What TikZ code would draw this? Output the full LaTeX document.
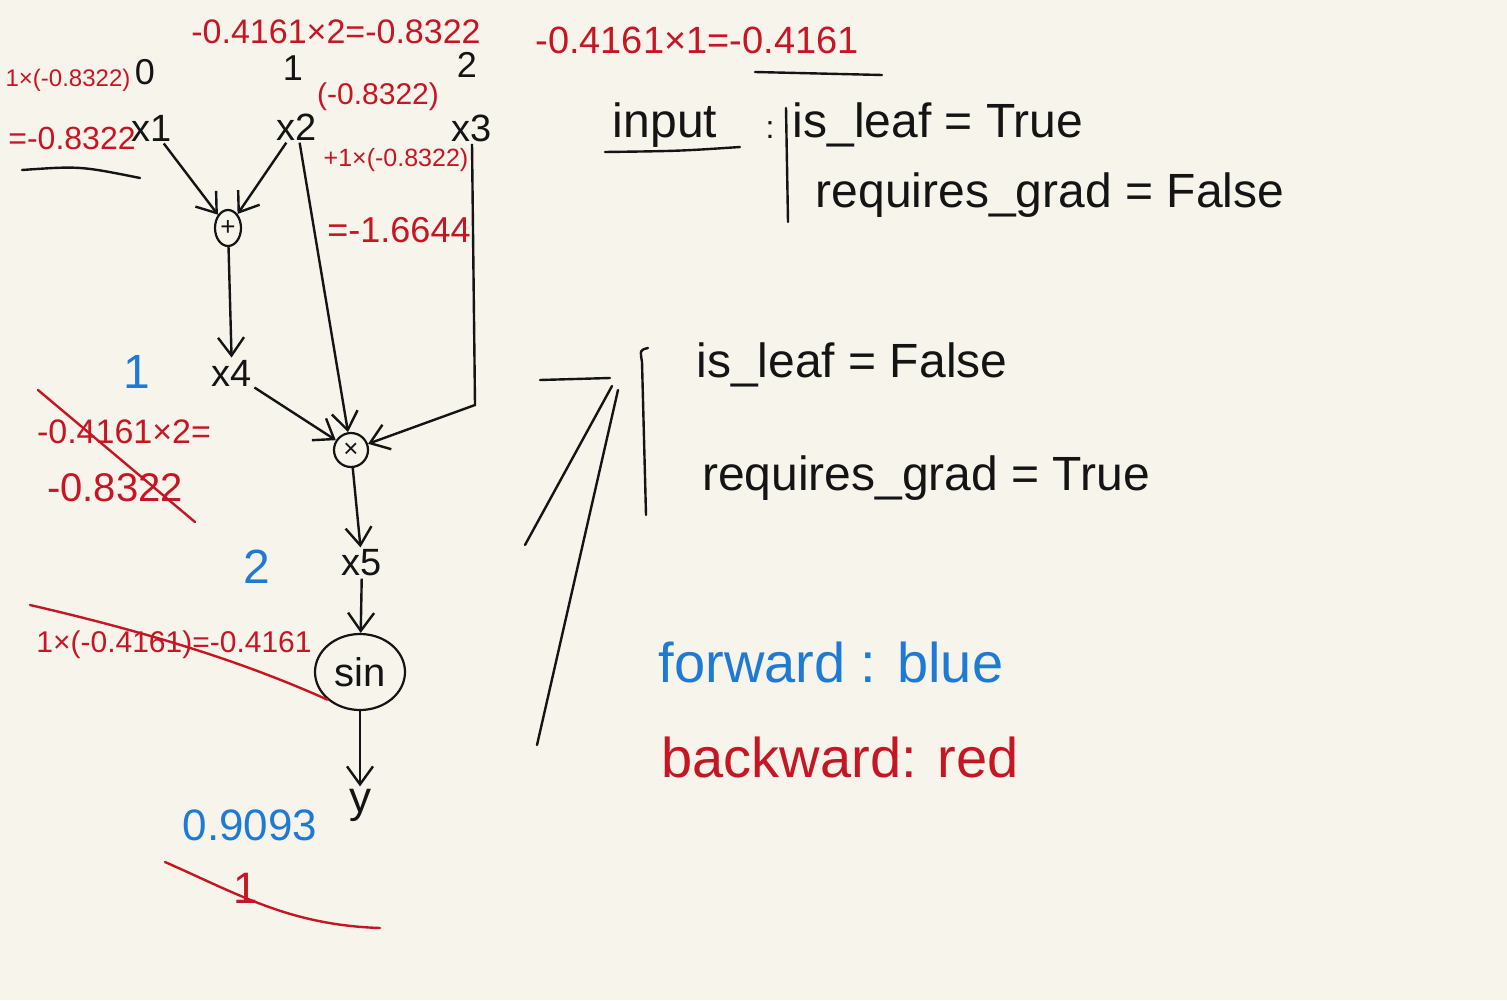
\documentclass[tikz,border=0pt]{standalone}
\usepackage{fontspec}
\setmainfont{Liberation Sans}
\usetikzlibrary{arrows.meta,shapes.geometric}
\definecolor{paper}{RGB}{247,244,235}
\definecolor{ink}{RGB}{20,20,20}
\definecolor{redink}{RGB}{198,22,36}
\definecolor{blueink}{RGB}{30,122,212}
\tikzset{
  fs/.style={font=\fontsize{#1pt}{#1pt}\selectfont},
  lbl/.style={inner sep=1pt, text=ink},
  bwd/.style={inner sep=1pt, text=redink},
  fwd/.style={inner sep=1pt, text=blueink},
  opnode/.style={draw=ink, line width=1.1pt, inner sep=0pt, text=ink},
  flow/.style={draw=ink, line width=1.2pt, -{Straight Barb[length=9pt,width=13pt]}},
  pen/.style={draw=ink, line width=1.2pt, line cap=round},
  redpen/.style={draw=redink, line width=1.2pt, line cap=round},
}
\begin{document}
\begin{tikzpicture}[x=0.5pt,y=-0.5pt]
\fill[paper] (0,0) rectangle (1507,1000);
\useasboundingbox (0,0) rectangle (1507,1000);

% black graph nodes
\node[lbl,fs=18] (n0) at (145,72) {0};
\node[lbl,fs=18] (n1) at (293,68) {1};
\node[lbl,fs=18] (n2) at (467,65) {2};
\node[lbl,fs=19] (x1) at (152,128) {x1};
\node[lbl,fs=19] (x2) at (297,127) {x2};
\node[lbl,fs=19] (x3) at (472,128) {x3};
\node[opnode,ellipse,minimum width=13pt,minimum height=18pt,fs=13] (plus) at (228,228) {+};
\node[lbl,fs=19] (x4) at (232,373) {x4};
\node[opnode,circle,minimum size=17pt,fs=13] (times) at (351,450) {×};
\node[lbl,fs=19] (x5) at (362,563) {x5};
\node[opnode,ellipse,minimum width=45pt,minimum height=38pt,fs=20] (sin) at (360,672) {sin};
\node[lbl,fs=22] (y) at (360,805) {y};

% forward connectors
\coordinate (c3) at (475,405);
\draw[flow] (x1) -- (plus);
\draw[flow] (x2) -- (plus);
\draw[flow] (plus) -- (x4);
\draw[flow] (x4) -- (times);
\draw[flow] (x2) -- (times);
\draw[flow] (x3.south) -- (c3) -- (times);
\draw[flow] (times) -- (x5);
\draw[flow] (x5) -- (sin);
\draw[flow] (sin) -- (y);

% blue forward values
\node[fwd,fs=24] (b1) at (137,372) {1};
\node[fwd,fs=24] (b2) at (257,567) {2};
\node[fwd,fs=22] (b3) at (250,825) {0.9093};
\node[fwd,fs=28] (b4) at (831,662) {forward :  blue};

% red backward values
\node[bwd,fs=17] (r1) at (336,32) {-0.4161×2=-0.8322};
\node[bwd,fs=19] (r2) at (697,40) {-0.4161×1=-0.4161};
\node[bwd,fs=12] (r3) at (68,80) {1×(-0.8322)};
\node[bwd,fs=16] (r4) at (72,138) {=-0.8322};
\node[bwd,fs=15] (r5) at (378,97) {(-0.8322)};
\node[bwd,fs=12.5] (r6) at (396,160) {+1×(-0.8322)};
\node[bwd,fs=18] (r7) at (399,230) {=-1.6644};
\node[bwd,fs=17] (r8) at (124,432) {-0.4161×2=};
\node[bwd,fs=20] (r9) at (115,488) {-0.8322};
\node[bwd,fs=15] (r10) at (174,645) {1×(-0.4161)=-0.4161};
\node[bwd,fs=22] (r11) at (246,888) {1};
\node[bwd,fs=28] (r12) at (840,757) {backward: red};

% red strokes
\coordinate (k1) at (38,390);
\coordinate (k2) at (195,522);
\draw[redpen] (k1) -- (k2);
\coordinate (s1) at (30,605);
\draw[redpen] (s1) .. controls (160,635) and (250,665) .. (sin.south west);
\coordinate (g1) at (165,862);
\coordinate (g2) at (380,928);
\draw[redpen] (g1) .. controls (240,895) and (290,925) .. (g2);

% black underline strokes
\coordinate (u1) at (22,170);
\coordinate (u2) at (140,178);
\draw[pen] (u1) .. controls (80,166) .. (u2);
\coordinate (u3) at (755,72);
\coordinate (u4) at (882,75);
\draw[pen] (u3) -- (u4);

% input properties
\node[lbl,fs=24] (inp) at (665,125) {input};
\coordinate (u5) at (605,152);
\coordinate (u6) at (740,147);
\draw[pen] (u5) .. controls (680,151) .. (u6);
\node[lbl,fs=16] (colon) at (770,130) {:};
\coordinate (v1) at (786,108);
\coordinate (v2) at (788,222);
\draw[pen] (v1) -- (v2);
\node[lbl,fs=24] (t1) at (938,125) {is\_leaf = True};
\node[lbl,fs=24] (t2) at (1050,195) {requires\_grad = False};

% non-leaf properties
\coordinate (h1) at (540,380);
\coordinate (h2) at (610,378);
\draw[pen] (h1) -- (h2);
\coordinate (d1) at (612,386);
\coordinate (d2) at (525,545);
\draw[pen] (d1) -- (d2);
\coordinate (d3) at (618,390);
\coordinate (d4) at (537,745);
\draw[pen] (d3) -- (d4);
\coordinate (w1) at (648,348);
\coordinate (w2) at (646,515);
\draw[pen] (w1) .. controls (640,350) .. (642,362) -- (w2);
\node[lbl,fs=24] (t3) at (852,365) {is\_leaf = False};
\node[lbl,fs=24] (t4) at (926,478) {requires\_grad = True};
\end{tikzpicture}
\end{document}
